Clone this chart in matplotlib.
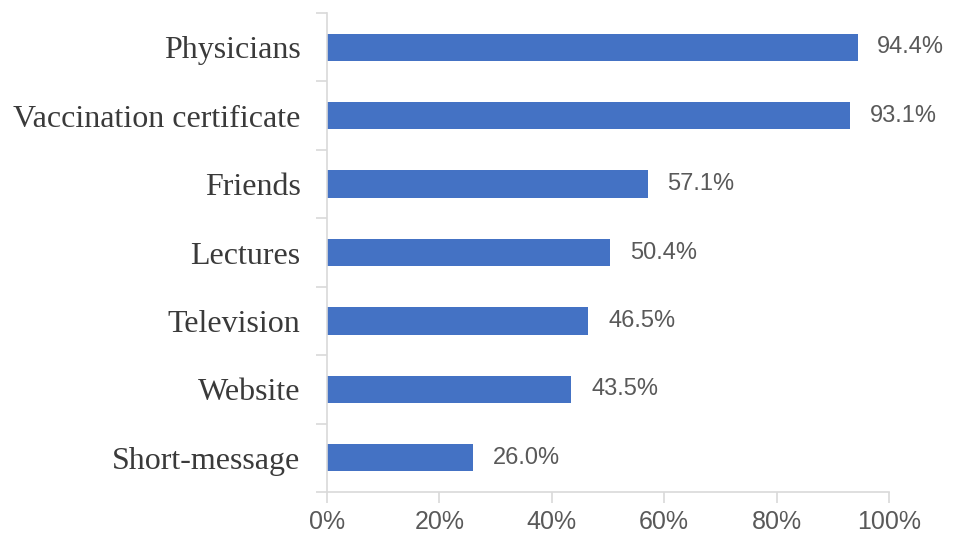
import matplotlib
matplotlib.use("Agg")
import matplotlib.pyplot as plt

categories = ["Physicians", "Vaccination certificate", "Friends", "Lectures",
              "Television", "Website", "Short-message"]
values = [94.4, 93.1, 57.1, 50.4, 46.5, 43.5, 26.0]
xticks = [0, 20, 40, 60, 80, 100]

num_font = "Liberation Sans"

fig = plt.figure(figsize=(9.57, 5.4), dpi=100)
ax = fig.add_axes([0.3417, 0.0889, 0.5873, 0.887])

ypos = list(range(len(categories)))[::-1]
ax.barh(ypos, values, height=0.4, color="#4472c4")

for y, v in zip(ypos, values):
    ax.text(v + 3.5, y, "{:.1f}%".format(v), va="center", ha="left",
            fontsize=17, color="#595959", family=num_font)

ax.set_xlim(0, 100)
ax.set_ylim(-0.5, len(categories) - 0.5)
ax.set_yticks(ypos)
ax.set_yticklabels(categories, family="Liberation Serif", fontsize=23, color="#3a3a3a")
ax.set_yticks([i - 0.5 for i in range(len(categories) + 1)], minor=True)
ax.tick_params(axis="y", which="major", length=0, pad=19)
ax.tick_params(axis="y", which="minor", length=8, color="#d9d9d9", width=1.2)

ax.set_xticks(xticks)
ax.set_xticklabels(["{}%".format(t) for t in xticks], family=num_font, fontsize=18, color="#595959")
ax.tick_params(axis="x", length=8, color="#d9d9d9", width=1.2, pad=5)

for s in ["top", "right"]:
    ax.spines[s].set_visible(False)
for s in ["left", "bottom"]:
    ax.spines[s].set_color("#d9d9d9")
    ax.spines[s].set_linewidth(1.2)

fig.savefig("out.png", dpi=100)
